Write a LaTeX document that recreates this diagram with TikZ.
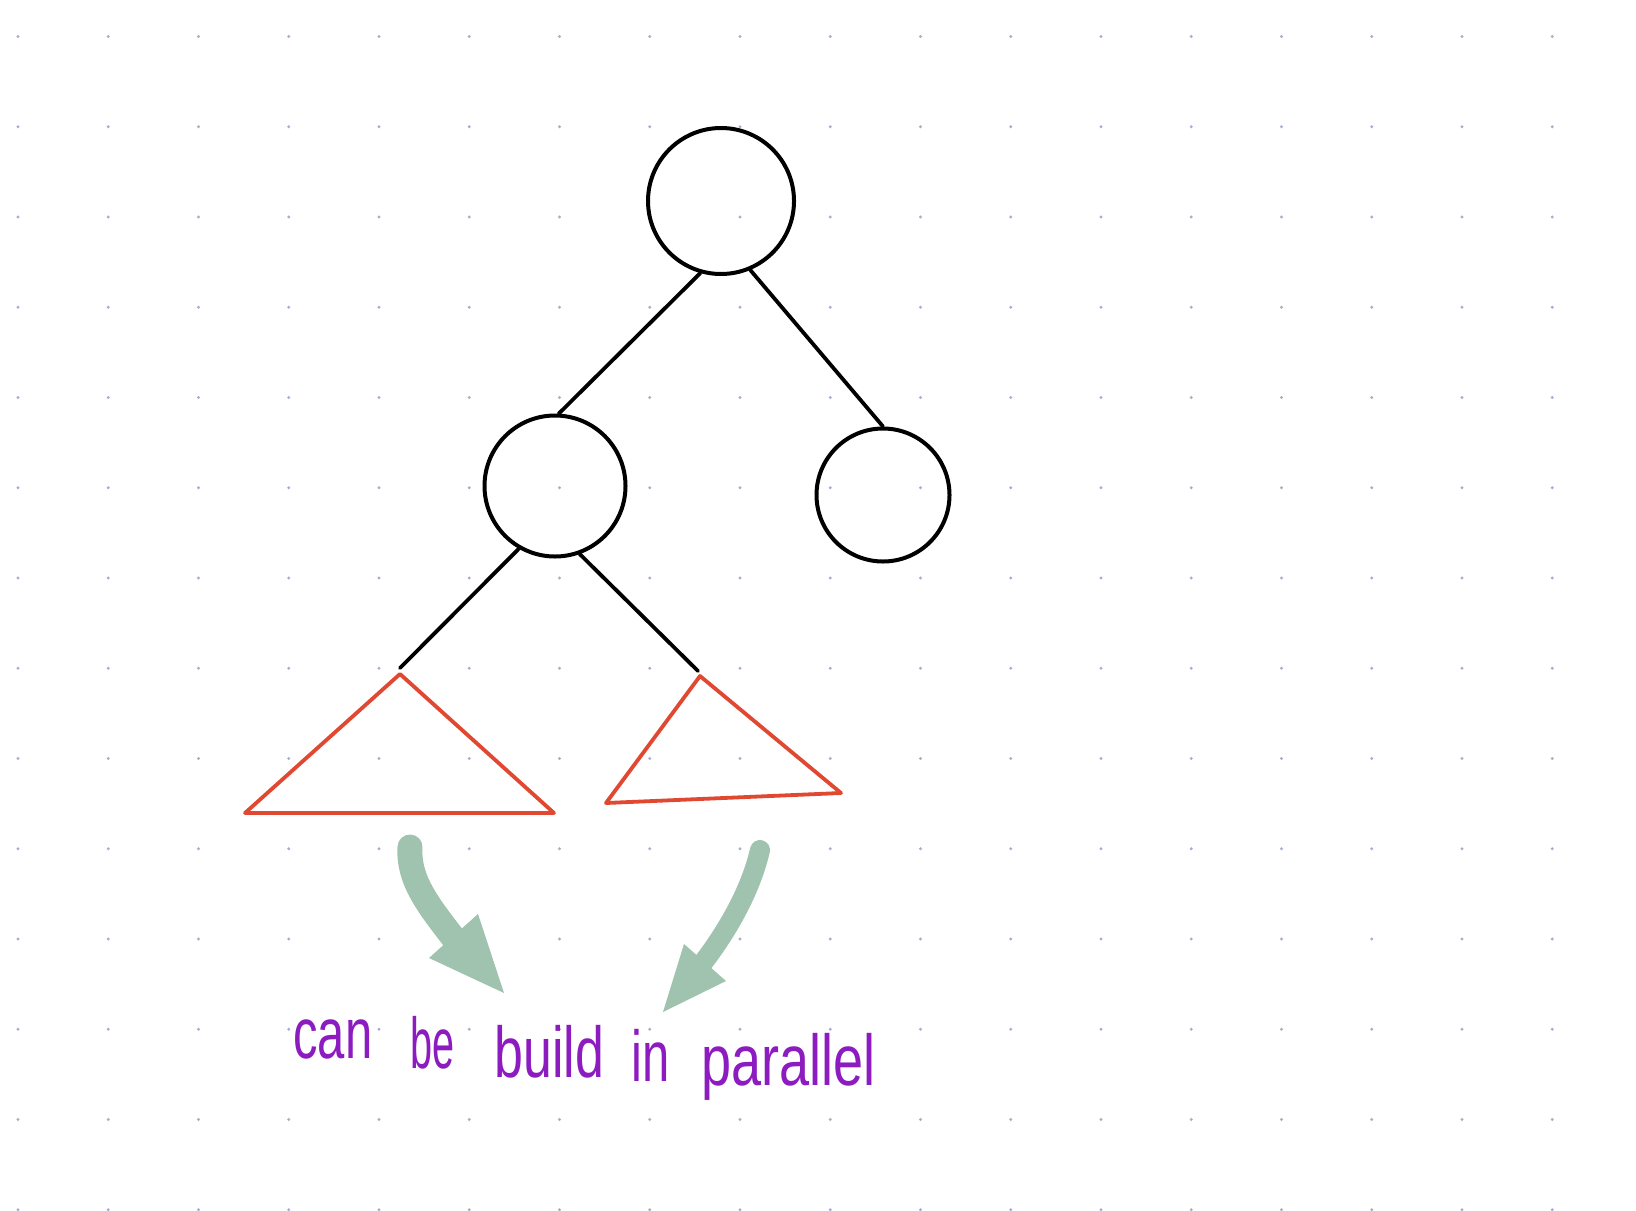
\documentclass[tikz,border=0pt]{standalone}
\usepackage{fontspec}
\newfontfamily\handfont{Liberation Sans}
\definecolor{dotc}{HTML}{A3AFCB}
\definecolor{redc}{HTML}{E04832}
\definecolor{greenc}{HTML}{9FC3AE}
\definecolor{purplec}{HTML}{8C1CC0}
\begin{document}
\begin{tikzpicture}[x=0.5pt,y=-0.5pt,
  treenode/.style={circle,draw=black,line width=2pt,inner sep=0pt},
  edge/.style={draw=black,line width=1.9pt,line cap=round},
  subtree/.style={draw=redc,line width=1.9pt,line join=round},
  shaft/.style={draw=greenc,line cap=round},
  head/.style={fill=greenc},
  hand/.style={text=purplec,font=\handfont\fontsize{36}{40}\selectfont,anchor=base west,inner sep=0pt}]
\fill[white] (0,0) rectangle (1636,1210);
\useasboundingbox (0,0) rectangle (1636,1210);
\foreach \i in {0,...,17} \foreach \j in {0,...,13} \fill[dotc] (18+90.25*\i,36.5+90.25*\j) circle (0.85pt);
% tree nodes
\node[treenode,minimum size=73pt] (root) at (721,201) {};
\node[treenode,minimum size=70.5pt] (left) at (555,486) {};
\node[treenode,minimum size=66.5pt] (right) at (883,495) {};
% subtrees
\coordinate (ta) at (400,668);
\coordinate (tb) at (698,671);
\draw[subtree] (400,674) -- (245,813) -- (554,813) -- cycle;
\draw[subtree] (700,676) -- (606,803) -- (841,793) -- cycle;
% edges
\draw[edge] (root.-106) -- (left.87);
\draw[edge] (root.-67) -- (right.north);
\draw[edge] (left.-120) -- (ta);
\draw[edge] (left.-70) -- (tb);
% arrows
\draw[shaft,line width=12.5pt] (410,847) .. controls (408,880) and (428,905) .. (455,940);
\fill[head] (429,958) -- (478,914) -- (504,993) -- cycle;
\draw[shaft,line width=10pt] (760,850) .. controls (752,885) and (732,925) .. (702,964);
\fill[head] (684,944) -- (726,981) -- (663,1012) -- cycle;
% text
\node[hand] (w1) at (293,1058) {\scalebox{0.68}[1]{can}};
\node[hand] (w2) at (410,1068) {\scalebox{0.55}[1]{be}};
\node[hand] (w3) at (494,1077) {\scalebox{0.72}[1]{build}};
\node[hand] (w4) at (631,1081) {\scalebox{0.68}[1]{in}};
\node[hand] (w5) at (701,1085) {\scalebox{0.75}[1]{parallel}};
\end{tikzpicture}
\end{document}
